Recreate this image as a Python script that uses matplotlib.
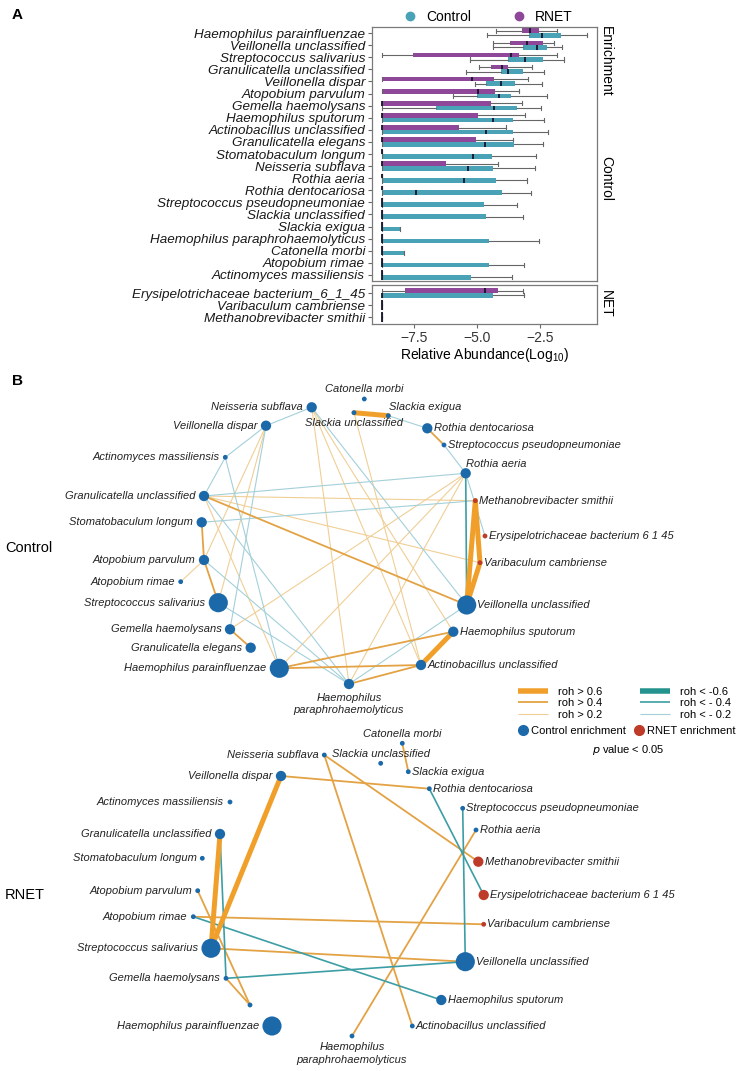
import numpy as np
import matplotlib
matplotlib.use('Agg')
import matplotlib.pyplot as plt
from matplotlib.lines import Line2D

plt.rcParams['font.family'] = ['Liberation Sans', 'DejaVu Sans']
plt.rcParams['mathtext.default'] = 'regular'

# ---------------- panel A data (log10 relative abundance) ----------------
species = ['Haemophilus parainfluenzae', 'Veillonella unclassified', 'Streptococcus salivarius',
           'Granulicatella unclassified', 'Veillonella dispar', 'Atopobium parvulum',
           'Gemella haemolysans', 'Haemophilus sputorum', 'Actinobacillus unclassified',
           'Granulicatella elegans', 'Stomatobaculum longum', 'Neisseria subflava',
           'Rothia aeria', 'Rothia dentocariosa', 'Streptococcus pseudopneumoniae',
           'Slackia unclassified', 'Slackia exigua', 'Haemophilus paraphrohaemolyticus',
           'Catonella morbi', 'Atopobium rimae', 'Actinomyces massiliensis']
net_species = ['Erysipelotrichaceae bacterium_6_1_45', 'Varibaculum cambriense',
               'Methanobrevibacter smithii']

Z = -8.78  # zero abundance floor
ctrl_lo  = [-4.59, -4.38, -5.30, -5.45, -5.08, -5.96, Z, Z, Z, Z, Z, Z, Z, Z, Z, Z, Z, Z, Z, Z, Z, Z, Z, Z]
ctrl_q1  = [-2.92, -3.16, -3.78, -4.06, -4.64, -5.01, -6.63, Z, Z, Z, Z, Z, Z, Z, Z, Z, Z, Z, Z, Z, Z, Z, Z, Z]
ctrl_med = [-2.43, -2.63, -3.10, -3.76, -4.06, -4.11, -4.31, -4.35, -4.66, -4.68, -5.15, -5.35,
            -5.52, -7.43, Z, Z, Z, Z, Z, Z, Z, Z, Z, Z]
ctrl_q3  = [-1.68, -2.23, -2.37, -3.16, -3.49, -3.65, -3.40, -3.58, -3.56, -3.53, -4.39, -4.35,
            -4.25, -4.00, -4.71, -4.64, -8.06, -4.51, -7.90, -4.51, -5.24, -4.38, Z, Z]
ctrl_hi  = [-0.62, -1.64, -1.55, -2.34, -2.43, -2.23, -2.47, -2.33, -2.19, -2.37, -2.66, -2.70,
            -3.00, -2.87, -3.40, -3.16, -8.06, -2.53, -7.90, -3.13, -3.60, -3.13, Z, Z]

rnet_lo  = [-4.25, -4.38, Z, -4.92, Z, Z, Z, Z, Z, Z, Z, Z, Z, Z, Z, Z, Z, Z, Z, Z, Z, Z, Z, Z]
rnet_q1  = [-3.23, -3.69, -7.55, -4.46, Z, Z, Z, Z, Z, Z, Z, Z, Z, Z, Z, Z, Z, Z, Z, Z, Z, -7.86, Z, Z]
rnet_med = [-2.90, -3.03, -3.65, -4.02, -5.19, -4.95, Z, Z, Z, Z, Z, Z, Z, Z, Z, Z, Z, Z, Z, Z, Z,
            -4.68, Z, Z]
rnet_q3  = [-2.53, -2.39, -3.33, -3.76, -4.31, -4.27, -4.46, -4.95, -5.70, -5.04, Z, -6.24,
            Z, Z, Z, Z, Z, Z, Z, Z, Z, -4.15, Z, Z]
rnet_hi  = [-1.81, -1.94, -1.81, -2.83, -2.99, -3.33, -3.23, -3.10, -3.86, -3.56, Z, -4.15,
            Z, Z, Z, Z, Z, Z, Z, Z, Z, -3.16, Z, Z]

# ---------------- panel B data (network layout, node abundance level, correlations) ----------------
node_names = species + ['Erysipelotrichaceae bacterium 6 1 45', 'Varibaculum cambriense',
                        'Methanobrevibacter smithii']
node_group = ['Control'] * 21 + ['RNET'] * 3

ctrl_x = [279.3, 466.7, 218.3, 204, 266, 204, 230, 453.3, 421, 250.7, 201.7, 311.7, 465.7, 427.3,
          444, 354, 388.3, 349, 364.3, 180.7, 225.3, 485, 480, 475.3]
ctrl_y = [668.3, 605, 602.7, 496, 425.7, 560, 629.3, 631.7, 665, 647.7, 522.3, 407.3, 473.3, 428.3,
          445, 412.7, 415.7, 684, 399, 581.7, 457.3, 536, 562.7, 500.7]
ctrl_level = [3, 3, 3, 2, 2, 2, 2, 2, 2, 2, 2, 2, 2, 2, 1, 1, 1, 2, 1, 1, 1, 1, 1, 1]

rnet_x = [272, 465.3, 211, 220, 281, 197.7, 226, 441.3, 412.3, 250, 202.3, 324.3, 476, 429.3,
          462.7, 380.7, 408.3, 352, 402.3, 193.3, 230, 483.7, 483.7, 478.3]
rnet_y = [1026, 961.7, 948.3, 834, 776, 890.7, 978.3, 1000, 1026, 1005, 858.3, 755, 830, 788.7,
          808.3, 763.3, 771.7, 1036, 743.3, 916.7, 802, 895, 924.3, 861.7]
rnet_level = [3, 3, 3, 2, 2, 1, 1, 2, 1, 1, 1, 1, 1, 1, 1, 1, 1, 1, 1, 1, 1, 2, 1, 2]

# edges: (node a, node b, roh class)
ctrl_edges = [(15, 16, 0.6), (23, 1, 0.6), (22, 1, 0.6), (23, 22, 0.6), (7, 8, 0.6),
              (10, 5, 0.4), (5, 2, 0.4), (6, 9, 0.4), (3, 1, 0.4), (0, 7, 0.4), (0, 8, 0.4),
              (17, 8, 0.4), (13, 14, 0.4), (12, 1, -0.4),
              (4, 5, 0.2), (4, 2, 0.2), (5, 19, 0.2), (11, 8, 0.2), (15, 8, 0.2), (11, 17, 0.2),
              (3, 23, 0.2), (3, 22, 0.2), (3, 0, 0.2), (6, 12, 0.2), (17, 12, 0.2), (0, 12, 0.2),
              (11, 7, 0.2),
              (11, 4, -0.2), (4, 20, -0.2), (20, 3, -0.2), (4, 6, -0.2), (20, 0, -0.2),
              (3, 12, -0.2), (10, 23, -0.2), (3, 17, -0.2), (5, 17, -0.2), (2, 17, -0.2),
              (11, 1, -0.2), (17, 1, -0.2), (16, 13, -0.2), (14, 12, -0.2), (12, 21, -0.2)]
rnet_edges = [(4, 2, 0.6), (3, 2, 0.6),
              (4, 13, 0.4), (11, 23, 0.4), (11, 8, 0.4), (18, 16, 0.4), (12, 17, 0.4),
              (19, 22, 0.4), (2, 1, 0.4), (5, 9, 0.4), (6, 9, 0.4),
              (13, 21, -0.4), (14, 1, -0.4), (19, 7, -0.4), (6, 1, -0.4), (3, 6, -0.4)]

# ---------------- styles ----------------
c_ctrl, c_rnet = '#4aa2b6', '#8f4899'
edge_style = {0.6: ('#f0a02a', 3.6), 0.4: ('#e3a243', 1.3), 0.2: ('#f0cf96', 0.8),
              -0.6: ('#25938d', 3.6), -0.4: ('#3c9ea4', 1.2), -0.2: ('#a4d0da', 0.8)}
node_color = {'Control': '#1c69aa', 'RNET': '#bd3b28'}
size_map = {1: 12, 2: 55, 3: 190}

fig = plt.figure(figsize=(7.42, 10.71), dpi=100)


def stats(lo, q1, med, q3, hi):
    return [dict(whislo=a, q1=b, med=c, q3=d, whishi=e, fliers=[])
            for a, b, c, d, e in zip(lo, q1, med, q3, hi)]


def draw_boxes(ax, idx, pos):
    for vals, col, off in [((rnet_lo, rnet_q1, rnet_med, rnet_q3, rnet_hi), c_rnet, -0.19),
                           ((ctrl_lo, ctrl_q1, ctrl_med, ctrl_q3, ctrl_hi), c_ctrl, 0.19)]:
        st = stats(*[[v[i] for i in idx] for v in vals])
        ax.bxp(st, positions=np.array(pos) + off, widths=0.38, orientation='horizontal',
               patch_artist=True, showfliers=False, manage_ticks=False, capwidths=0.34,
               boxprops=dict(facecolor=col, edgecolor=col, linewidth=0),
               medianprops=dict(color='#15152a', linewidth=1.3),
               whiskerprops=dict(color='#666666', linewidth=0.8),
               capprops=dict(color='#666666', linewidth=0.8))


def style_axis(ax, labels):
    ax.set_xlim(-9.17, -0.24)
    ax.set_yticks(range(len(labels)))
    ax.set_yticklabels(labels, fontstyle='italic', fontsize=9.7, color='#1a1a1a')
    for sp in ax.spines.values():
        sp.set_color('#7a7a7a')
        sp.set_linewidth(0.9)
    ax.tick_params(axis='y', length=3, color='#6b6b6b', pad=2)


ax1 = fig.add_axes([372 / 742, 1 - 281 / 1071, 225 / 742, 254 / 1071])
draw_boxes(ax1, range(21), range(21))
style_axis(ax1, species)
ax1.set_ylim(20.5, -0.5)
ax1.tick_params(axis='x', bottom=False, labelbottom=False)

ax2 = fig.add_axes([372 / 742, 1 - 324 / 1071, 225 / 742, 39 / 1071])
draw_boxes(ax2, range(21, 24), range(3))
style_axis(ax2, net_species)
ax2.set_ylim(2.58, -0.67)
ax2.set_xticks([-7.5, -5.0, -2.5])
ax2.set_xticklabels(['\u22127.5', '\u22125.0', '\u22122.5'], fontsize=10, color='#333333')
ax2.tick_params(axis='x', length=3, color='#6b6b6b', pad=2)
ax2.set_xlabel('Relative Abundance(Log$_{10}$)', fontsize=10, labelpad=1)

fig.text(606 / 742, 1 - 61 / 1071, 'Enrichment', rotation=-90, ha='center', va='center', fontsize=10)
fig.text(606 / 742, 1 - 178 / 1071, 'Control', rotation=-90, ha='center', va='center', fontsize=10)
fig.text(606 / 742, 1 - 304 / 1071, 'NET', rotation=-90, ha='center', va='center', fontsize=10)

leg_a = [Line2D([], [], ls='', marker='o', ms=6, color=c_ctrl, label='Control'),
         Line2D([], [], ls='', marker='o', ms=6, color=c_rnet, label='RNET')]
ax1.legend(handles=leg_a, loc='lower center', bbox_to_anchor=(0.5, 1.0), ncol=2, frameon=False,
           fontsize=10, handletextpad=0.2, columnspacing=2.4, borderaxespad=0.1, borderpad=0.1)

fig.text(12 / 742, 1 - 15 / 1071, 'A', fontsize=11, fontweight='bold', va='center')
fig.text(12 / 742, 1 - 381 / 1071, 'B', fontsize=11, fontweight='bold', va='center')

# ---------------- panel B ----------------
net = fig.add_axes([0, 0, 1, 706 / 1071])
net.set_xlim(0, 742)
net.set_ylim(1071, 365)
net.axis('off')

ctrl_special = {18: 'above', 15: 'below', 16: 'upright', 12: 'upright', 17: 'below2'}
rnet_special = {18: 'above', 15: 'above', 17: 'below2', 9: 'none'}


def draw_network(xs, ys, levels, edges, special):
    order = sorted(edges, key=lambda e: abs(e[2]))
    for a, b, r in order:
        col, lw = edge_style[r]
        net.plot([xs[a], xs[b]], [ys[a], ys[b]], color=col, lw=lw, solid_capstyle='round',
                 zorder=1 + abs(r))
    sizes = [size_map[l] for l in levels]
    cols = [node_color[g] for g in node_group]
    net.scatter(xs, ys, s=sizes, c=cols, linewidths=0, zorder=5)
    cx = 335
    for i, name in enumerate(node_names):
        r = np.sqrt(sizes[i]) / 2
        mode = special.get(i, 'right' if xs[i] > cx else 'left')
        kw = dict(fontsize=8, fontstyle='italic', color='#222222', textcoords='offset points')
        if mode == 'none':
            continue
        if mode == 'right':
            net.annotate(name, (xs[i], ys[i]), xytext=(r + 0.8, 0), ha='left', va='center', **kw)
        elif mode == 'left':
            net.annotate(name, (xs[i], ys[i]), xytext=(-(r + 2.5), 0), ha='right', va='center', **kw)
        elif mode == 'above':
            net.annotate(name, (xs[i], ys[i]), xytext=(0, 7), ha='center', va='center', **kw)
        elif mode == 'below':
            net.annotate(name, (xs[i], ys[i]), xytext=(0, -7.5), ha='center', va='center', **kw)
        elif mode == 'upright':
            net.annotate(name, (xs[i], ys[i]), xytext=(0.5, 6.5), ha='left', va='center', **kw)
        elif mode == 'below2':
            net.annotate('Haemophilus\nparaphrohaemolyticus', (xs[i], ys[i]), xytext=(0, -(r + 2.5)),
                         ha='center', va='top', linespacing=1.35, **kw)


draw_network(ctrl_x, ctrl_y, ctrl_level, ctrl_edges, ctrl_special)
draw_network(rnet_x, rnet_y, rnet_level, rnet_edges, rnet_special)

net.text(5, 548, 'Control', fontsize=10.5, ha='left', va='center')
net.text(5, 895, 'RNET', fontsize=10.5, ha='left', va='center')

# legend
line_h = []
for r, lab in [(0.6, 'roh > 0.6'), (0.4, 'roh > 0.4'), (0.2, 'roh > 0.2'),
               (-0.6, 'roh < -0.6'), (-0.4, 'roh < - 0.4'), (-0.2, 'roh < - 0.2')]:
    col, lw = edge_style[r]
    line_h.append(Line2D([], [], color=col, lw=lw * 1.1 if abs(r) == 0.6 else lw, label=lab,
                         solid_capstyle='butt'))
leg1 = net.legend(handles=line_h, ncol=2, loc='upper left', bbox_to_anchor=(518, 687),
                  bbox_transform=net.transData, frameon=False, fontsize=8, handlelength=2.7,
                  handletextpad=0.9, columnspacing=3.4, labelspacing=0.12, borderpad=0,
                  borderaxespad=0)
net.add_artist(leg1)
dot_h = [Line2D([], [], ls='', marker='o', ms=7, color=node_color['Control'], label='Control enrichment'),
         Line2D([], [], ls='', marker='o', ms=7, color=node_color['RNET'], label='RNET enrichment')]
net.legend(handles=dot_h, ncol=2, loc='upper left', bbox_to_anchor=(518, 726),
           bbox_transform=net.transData, frameon=False, fontsize=8, handlelength=0.9,
           handletextpad=0.3, columnspacing=0.7, borderpad=0, borderaxespad=0)
net.text(628, 750, '$\\it{p}$ value < 0.05', fontsize=8, ha='center', va='center')

fig.savefig('out.png', dpi=100)
